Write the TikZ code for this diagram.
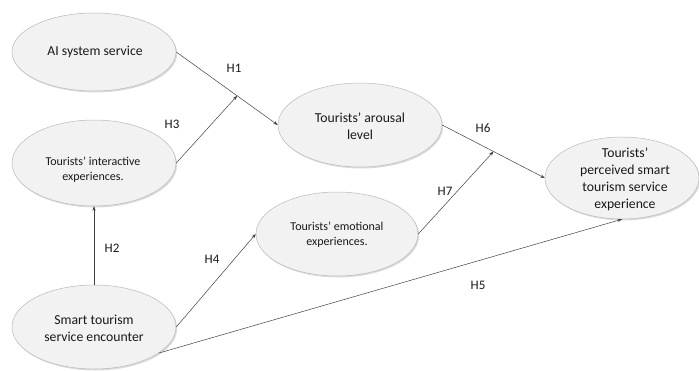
\documentclass[tikz,border=0pt]{standalone}
\usepackage{fontspec}
\setmainfont{Carlito}
\usetikzlibrary{shapes.geometric,arrows.meta,shadows,calc}
\tikzset{
  oval/.style={ellipse, draw=gray!55, line width=0.5pt, fill=gray!10, inner sep=0pt,
    drop shadow={opacity=0.35, shadow xshift=1.2pt, shadow yshift=-1.5pt, fill=gray!80}},
  bigtxt/.style={align=center, inner sep=0pt, text=black!90, font=\fontsize{13.7}{17}\selectfont},
  smalltxt/.style={align=center, inner sep=0pt, text=black!90, font=\fontsize{12}{15}\selectfont},
  hlab/.style={inner sep=0pt, text=black!90, font=\fontsize{13}{15}\selectfont},
  conn/.style={draw=black!75, line width=0.5pt, -{Stealth[length=4.5pt,width=3.2pt]}},
  plain/.style={draw=black!75, line width=0.5pt}
}
\begin{document}
\begin{tikzpicture}[x=1pt,y=-1pt]
\useasboundingbox (0,0) rectangle (699,370);
% ellipses
\node[oval, minimum width=164pt, minimum height=78pt] (ai) at (94,52) {};
\node[oval, minimum width=164pt, minimum height=86pt] (ia) at (94,163) {};
\node[oval, minimum width=164pt, minimum height=84pt] (sm) at (94,327) {};
\node[oval, minimum width=164pt, minimum height=84pt] (ar) at (360,125) {};
\node[oval, minimum width=162pt, minimum height=84pt] (em) at (337,234) {};
\node[oval, minimum width=154pt, minimum height=82pt] (pe) at (622,178) {};
% texts
\node[bigtxt] (tai) at (95,52) {AI system service};
\node[smalltxt] (tia) at (93,169.5) {Tourists’ interactive\\experiences.};
\node[bigtxt] (tsm) at (94,328.5) {Smart tourism\\service encounter};
\node[bigtxt] (tar) at (360,126.5) {Tourists’ arousal\\level};
\node[smalltxt] (tem) at (337,234.5) {Tourists’ emotional\\experiences.};
\node[bigtxt] (tpe) at (625,179) {Tourists’\\perceived smart\\tourism service\\experience};
% connectors
\coordinate (j1) at ($(ai.east)!0.6!(ar.west)$);
\coordinate (j2) at ($(ar.east)!0.5!(pe.west)$);
\draw[conn] (ai.east) -- (ar.west);
\draw[conn] (ia.east) -- (j1);
\draw[conn] (sm.north) -- (ia.south);
\draw[conn] (sm.east) -- (em.west);
\draw[conn] (ar.east) -- (pe.west);
\draw[conn] (em.east) -- (j2);
\draw[conn] (sm.-22) -- (pe.south);
% labels
\node[hlab] (h1) at (234,68) {H1};
\node[hlab] (h2) at (112,248) {H2};
\node[hlab] (h3) at (172,124) {H3};
\node[hlab] (h4) at (212,259) {H4};
\node[hlab] (h5) at (478,285) {H5};
\node[hlab] (h6) at (483,128) {H6};
\node[hlab] (h7) at (445,191) {H7};
\end{tikzpicture}
\end{document}
